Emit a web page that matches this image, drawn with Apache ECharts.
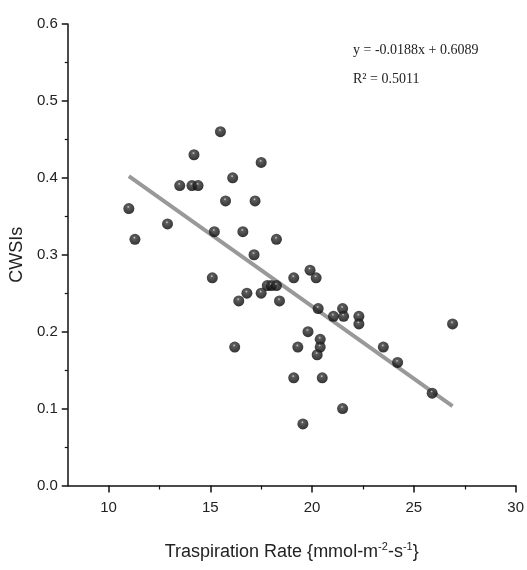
<!DOCTYPE html>
<html><head><meta charset="utf-8">
<script src="https://cdn.jsdelivr.net/npm/echarts@6/dist/echarts.min.js"></script>
<style>html,body{margin:0;padding:0;background:#fff}#c{width:527px;height:570px}</style>
</head><body><div id="c"></div>
<script>
// Transpiration rate (x) and CWSI (y) observations
const transpiration = [15.5, 14.2, 17.5, 16.1, 13.5, 14.1, 14.4, 15.75, 17.2, 11.0, 12.9, 11.3, 15.2, 16.6, 18.25, 17.15, 15.1,
  19.9, 20.2, 19.1, 17.8, 18.0, 18.25, 16.8, 17.5, 16.4, 18.4, 20.3, 21.5, 21.05, 21.55, 22.3, 22.3, 19.8, 20.4, 20.4, 20.25,
  16.2, 19.3, 19.1, 20.5, 21.5, 19.55, 26.9, 23.5, 24.2, 25.9];
const cwsi = [0.46, 0.43, 0.42, 0.40, 0.39, 0.39, 0.39, 0.37, 0.37, 0.36, 0.34, 0.32, 0.33, 0.33, 0.32, 0.30, 0.27,
  0.28, 0.27, 0.27, 0.26, 0.26, 0.26, 0.25, 0.25, 0.24, 0.24, 0.23, 0.23, 0.22, 0.22, 0.22, 0.21, 0.20, 0.19, 0.18, 0.17,
  0.18, 0.18, 0.14, 0.14, 0.10, 0.08, 0.21, 0.18, 0.16, 0.12];
// Fitted regression line
const fitSlope = [-0.0188];
const fitIntercept = [0.6089];
const fitRange = [11.0, 26.9];
const xTickLabels = [10, 15, 20, 25, 30];
const xMinorTicks = [12.5, 17.5, 22.5, 27.5];
const equationText = ['y = -0.0188x + 0.6089', 'R² = 0.5011'];

const points = transpiration.map((x, i) => [x, cwsi[i]]);
const fitLine = fitRange.map(x => [x, fitSlope[0] * x + fitIntercept[0]]);

const chart = echarts.init(document.getElementById('c'), null, {renderer: 'canvas'});
const sans = 'Liberation Sans, Arial, sans-serif';
chart.setOption({
  animation: false,
  backgroundColor: '#fff',
  grid: {left: 66, right: 10.3, top: 24, bottom: 84.5},
  xAxis: [{
    type: 'value', min: 8, max: 30,
    name: '{a|Traspiration Rate {mmol-m}{s|-2}{a|-s}{s|-1}}',
    nameLocation: 'middle', nameGap: 56,
    nameTextStyle: {
      fontFamily: sans, fontSize: 18, color: '#222',
      rich: {
        a: {fontFamily: sans, fontSize: 18, color: '#222'},
        s: {fontFamily: sans, fontSize: 11, color: '#222', verticalAlign: 'top', padding: [0, 0, 10, 0]}
      }
    },
    axisLine: {lineStyle: {color: '#111', width: 1.5}},
    axisTick: {show: true, length: 7, customValues: xTickLabels, lineStyle: {color: '#111', width: 1.5}},
    axisLabel: {customValues: xTickLabels, fontFamily: sans, fontSize: 15, color: '#222', margin: 15},
    splitLine: {show: false}
  }, {
    type: 'value', min: 8, max: 30, position: 'bottom',
    axisLine: {show: false},
    axisTick: {show: true, length: 4, customValues: xMinorTicks, lineStyle: {color: '#111', width: 1.2}},
    axisLabel: {show: false},
    splitLine: {show: false}
  }],
  yAxis: {
    type: 'value', min: 0, max: 0.6, interval: 0.1,
    name: 'CWSIs', nameLocation: 'middle', nameGap: 38,
    nameTextStyle: {fontFamily: sans, fontSize: 18, color: '#222'},
    axisLine: {show: true, lineStyle: {color: '#111', width: 1.5}},
    axisTick: {show: true, length: 6, lineStyle: {color: '#111', width: 1.5}},
    minorTick: {show: true, splitNumber: 2, length: 3, lineStyle: {color: '#111', width: 1.2}},
    axisLabel: {fontFamily: sans, fontSize: 15, color: '#222', margin: 10, formatter: v => v.toFixed(1)},
    splitLine: {show: false}
  },
  series: [{
    type: 'line', data: fitLine, symbol: 'none', z: 2,
    lineStyle: {color: '#999', width: 4}
  }, {
    type: 'scatter', data: points, symbolSize: 11, z: 3,
    itemStyle: {
      color: {type: 'radial', x: 0.45, y: 0.35, r: 0.65, colorStops: [
        {offset: 0, color: '#c8c8c8'}, {offset: 0.2, color: '#333'}, {offset: 1, color: '#000'}]}
    }
  }],
  graphic: [
    {type: 'text', left: 353, top: 43, style: {text: equationText[0], font: '14px "Liberation Serif", serif', fill: '#222'}},
    {type: 'text', left: 353, top: 72, style: {text: equationText[1], font: '14px "Liberation Serif", serif', fill: '#222'}}
  ]
});
</script></body></html>
